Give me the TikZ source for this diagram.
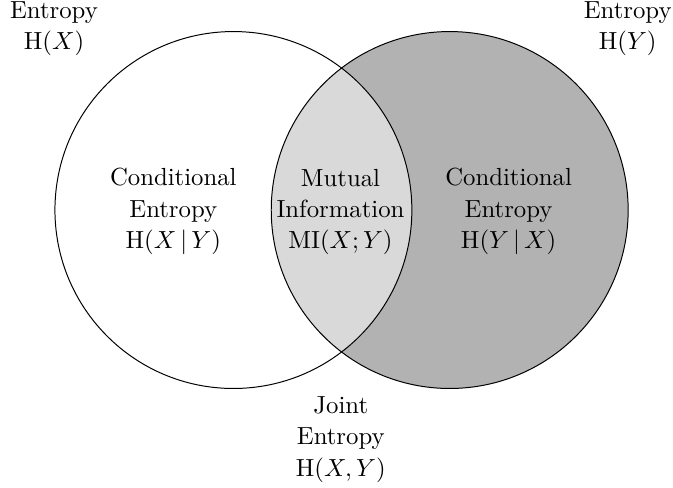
\documentclass[tikz,border=0pt]{standalone}
\begin{document}
\begin{tikzpicture}[x=0.4040pt,y=-0.4040pt,
  lbl/.style={align=center,inner sep=0pt,font=\fontsize{10}{12.6}\selectfont},
  ring/.style={draw=black,line width=0.4pt}]
\useasboundingbox (0,0) rectangle (673,487);
\coordinate (cl) at (233.4,210);
\coordinate (cr) at (449.7,210);
\fill[black!30] (cr) circle[radius=72.1pt];
\begin{scope}
  \clip (cl) circle[radius=72.1pt];
  \fill[black!15] (cr) circle[radius=72.1pt];
\end{scope}
\draw[ring] (cl) circle[radius=72.1pt];
\draw[ring] (cr) circle[radius=72.1pt];
\node[lbl] (hx) at (54,29) {Entropy\\$\mathrm{H}(X)$};
\node[lbl] (hy) at (627.7,29) {Entropy\\$\mathrm{H}(Y)$};
\node[lbl] (hxy) at (173.3,211.5) {Conditional\\Entropy\\$\mathrm{H}(X\,|\,Y)$};
\node[lbl] (mi) at (340.5,212) {Mutual\\Information\\$\mathrm{MI}(X;Y)$};
\node[lbl] (hyx) at (508.6,211.5) {Conditional\\Entropy\\$\mathrm{H}(Y\,|\,X)$};
\node[lbl] (joint) at (340.8,439.5) {Joint\\Entropy\\$\mathrm{H}(X,Y)$};
\end{tikzpicture}
\end{document}
